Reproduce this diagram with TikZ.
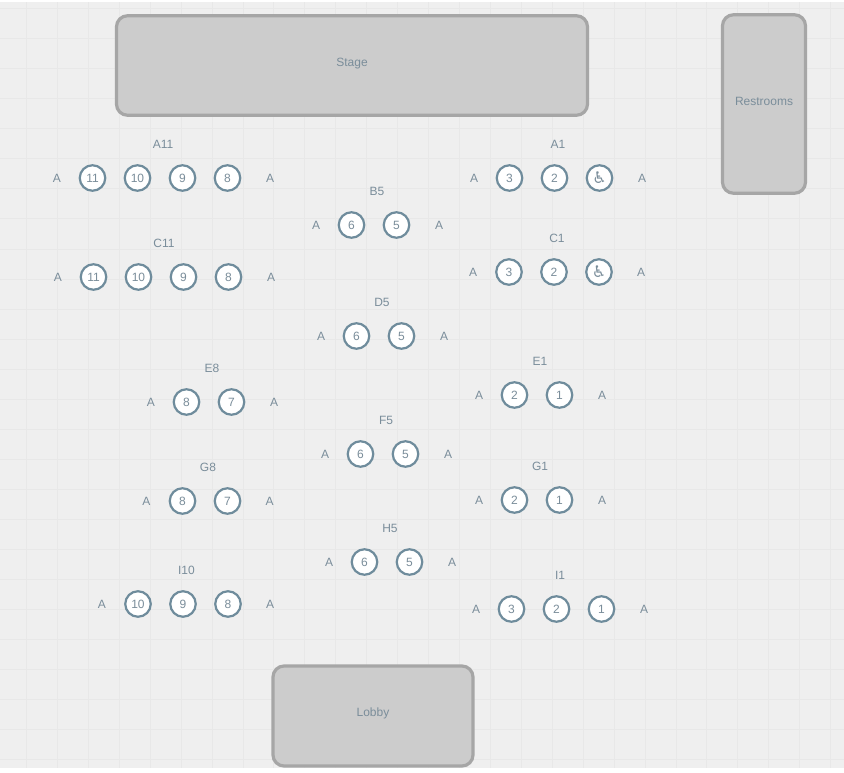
\documentclass[tikz,border=0pt]{standalone}
\usepackage{fontspec}
\setmainfont{Liberation Sans}
\newfontfamily\seatsymbolfont{DejaVu Sans}
\usepackage{xcolor}
\definecolor{planbg}{HTML}{EFEFEF}
\definecolor{plangrid}{HTML}{E8E8E8}
\definecolor{planink}{HTML}{7A8D9A}
\definecolor{seatring}{HTML}{6F8C9C}
\definecolor{roomfill}{HTML}{CCCCCC}
\definecolor{roomline}{HTML}{A6A6A6}
\tikzset{
  planseat/.style={
    circle, draw=seatring, fill=white, line width=2.2pt,
    minimum size=25.5pt, inner sep=0pt, font=\fontsize{12}{14}\selectfont,
    text=planink, text height=8.6pt, text depth=0pt
  },
  planroom/.style={
    rectangle, rounded corners=11pt, draw=roomline, fill=roomfill, line width=3.2pt
  },
  planlabel/.style={
    inner sep=0pt, font=\fontsize{12}{14}\selectfont,
    text=planink, text height=8.6pt, text depth=0pt
  },
  planaccess/.style={font=\fontsize{16}{16}\selectfont\seatsymbolfont, text height=11pt},
  plangridline/.style={draw=plangrid, line width=1pt}
}
\begin{document}
\begin{tikzpicture}[x=1pt,y=-1pt]
  \useasboundingbox (0,0) rectangle (844,773);
  % floor and grid
  \fill[planbg] (0,2) rectangle (844,768);
  \foreach \gx in {0,...,26} {
    \draw[plangridline] ({26.5+30.93*\gx},2) -- ({26.5+30.93*\gx},768);
  }
  \foreach \gy in {0,...,25} {
    \draw[plangridline] (0,{9+30*\gy}) -- (844,{9+30*\gy});
  }
  % rooms
  \node[planroom,minimum width=471pt,minimum height=99.5pt] (stage) at (352,65.5) {};
  \node[planlabel] (stagetext) at (352,62) {Stage};
  \node[planroom,minimum width=83pt,minimum height=178.5pt] (restrooms) at (764,104) {};
  \node[planlabel] (restroomstext) at (764,101) {Restrooms};
  \node[planroom,minimum width=200pt,minimum height=100pt] (lobby) at (373,716) {};
  \node[planlabel] (lobbytext) at (373,712.5) {Lobby};
  % row A left
  \node[planlabel] (a11name) at (163,144) {A11};
  \node[planlabel] (a11l) at (57,178) {A};
  \node[planseat] (a11) at (92.5,178) {11};
  \node[planseat] (a10) at (137.5,178) {10};
  \node[planseat] (a9) at (182.5,178) {9};
  \node[planseat] (a8) at (227.5,178) {8};
  \node[planlabel] (a8r) at (270,178) {A};
  % row A right
  \node[planlabel] (a1name) at (558,144) {A1};
  \node[planlabel] (a3l) at (474,178) {A};
  \node[planseat] (a3) at (509.5,178) {3};
  \node[planseat] (a2) at (554.5,178) {2};
  \node[planseat,planaccess] (a1) at (599.5,178) {♿};
  \node[planlabel] (a1r) at (642,178) {A};
  % row B
  \node[planlabel] (b5name) at (377,191) {B5};
  \node[planlabel] (b6l) at (316,225) {A};
  \node[planseat] (b6) at (351.5,225) {6};
  \node[planseat] (b5) at (396.5,225) {5};
  \node[planlabel] (b5r) at (439,225) {A};
  % row C left
  \node[planlabel] (c11name) at (164,243) {C11};
  \node[planlabel] (c11l) at (58,277) {A};
  \node[planseat] (c11) at (93.5,277) {11};
  \node[planseat] (c10) at (138.5,277) {10};
  \node[planseat] (c9) at (183.5,277) {9};
  \node[planseat] (c8) at (228.5,277) {8};
  \node[planlabel] (c8r) at (271,277) {A};
  % row C right
  \node[planlabel] (c1name) at (557,238) {C1};
  \node[planlabel] (c3l) at (473,272) {A};
  \node[planseat] (c3) at (509,272) {3};
  \node[planseat] (c2) at (554,272) {2};
  \node[planseat,planaccess] (c1) at (599,272) {♿};
  \node[planlabel] (c1r) at (641,272) {A};
  % row D
  \node[planlabel] (d5name) at (382,302) {D5};
  \node[planlabel] (d6l) at (321,336) {A};
  \node[planseat] (d6) at (356.5,336) {6};
  \node[planseat] (d5) at (401.5,336) {5};
  \node[planlabel] (d5r) at (444,336) {A};
  % row E
  \node[planlabel] (e8name) at (212,368) {E8};
  \node[planlabel] (e8l) at (151,402) {A};
  \node[planseat] (e8) at (186.5,402) {8};
  \node[planseat] (e7) at (231.5,402) {7};
  \node[planlabel] (e7r) at (274,402) {A};
  \node[planlabel] (e1name) at (540,361) {E1};
  \node[planlabel] (e2l) at (479,395) {A};
  \node[planseat] (e2) at (514.5,395) {2};
  \node[planseat] (e1) at (559.5,395) {1};
  \node[planlabel] (e1r) at (602,395) {A};
  % row F
  \node[planlabel] (f5name) at (386,420) {F5};
  \node[planlabel] (f6l) at (325,454) {A};
  \node[planseat] (f6) at (360.5,454) {6};
  \node[planseat] (f5) at (405.5,454) {5};
  \node[planlabel] (f5r) at (448,454) {A};
  % row G
  \node[planlabel] (g8name) at (208,467) {G8};
  \node[planlabel] (g8l) at (146.5,501) {A};
  \node[planseat] (g8) at (182.5,501) {8};
  \node[planseat] (g7) at (227.5,501) {7};
  \node[planlabel] (g7r) at (269.5,501) {A};
  \node[planlabel] (g1name) at (540,466) {G1};
  \node[planlabel] (g2l) at (479,500) {A};
  \node[planseat] (g2) at (514.5,500) {2};
  \node[planseat] (g1) at (559.5,500) {1};
  \node[planlabel] (g1r) at (602,500) {A};
  % row H
  \node[planlabel] (h5name) at (390,528) {H5};
  \node[planlabel] (h6l) at (329,562) {A};
  \node[planseat] (h6) at (364.5,562) {6};
  \node[planseat] (h5) at (409.5,562) {5};
  \node[planlabel] (h5r) at (452,562) {A};
  % row I
  \node[planlabel] (i10name) at (186.5,570) {I10};
  \node[planlabel] (i10l) at (102,604) {A};
  \node[planseat] (i10) at (138,604) {10};
  \node[planseat] (i9) at (183,604) {9};
  \node[planseat] (i8) at (228,604) {8};
  \node[planlabel] (i8r) at (270,604) {A};
  \node[planlabel] (i1name) at (560,575) {I1};
  \node[planlabel] (i3l) at (476,609) {A};
  \node[planseat] (i3) at (511.5,609) {3};
  \node[planseat] (i2) at (556.5,609) {2};
  \node[planseat] (i1) at (601.5,609) {1};
  \node[planlabel] (i1r) at (644,609) {A};
\end{tikzpicture}
\end{document}
